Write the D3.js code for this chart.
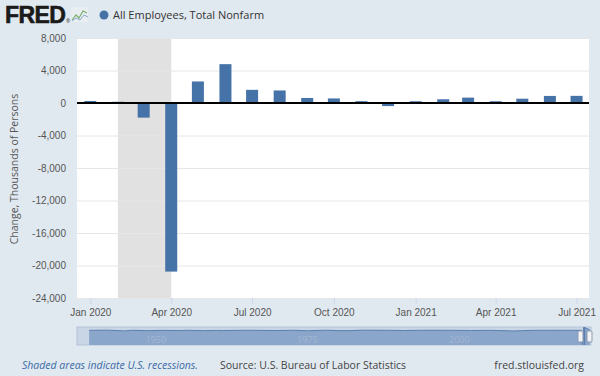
<html>
<head>
  <script src="https://d3js.org/d3.v7.min.js"></script>
  <style>
    body { margin: 0; background: #e1e9f0; }
    svg { font-family: "Open Sans", sans-serif; }
    .gridlines line { stroke: #e6e6e6; }
    .gridlines .domain { stroke: none; }
    .axis .domain { stroke: none; }
    .axis text { fill: #555; font-size: 10px; }
  </style>
</head>
<body>
  <svg id="chart" width="600" height="376"></svg>
  <script>
    // monthly change, thousands of persons
    const months = ["2020-01", "2020-02", "2020-03", "2020-04", "2020-05", "2020-06", "2020-07", "2020-08",
      "2020-09", "2020-10", "2020-11", "2020-12", "2021-01", "2021-02", "2021-03", "2021-04",
      "2021-05", "2021-06", "2021-07"]
    const changes = [250, 150, -1800, -20750, 2650, 4780, 1620, 1540, 620, 560, 230, -380, 220, 460, 660, 220, 530, 870, 880]
    const yTicks = [8000, 4000, 0, -4000, -8000, -12000, -16000, -20000, -24000]
    const xTicks = ["2020-01", "2020-04", "2020-07", "2020-10", "2021-01", "2021-04", "2021-07"]
    const recession = ["2020-02", "2020-04"]
    // navigator overview (long history, thousands)
    const navYears = [1939, 1942, 1945, 1946, 1949, 1951, 1954, 1955, 1958, 1960, 1961, 1965, 1970, 1973, 1975, 1978,
      1980, 1982, 1984, 1988, 1991, 1994, 1999, 2002, 2005, 2009, 2012, 2015, 2019, 2020.1, 2020.3, 2020.5, 2021.5]
    const navValues = [200, 400, -600, 300, -300, 200, -200, 250, -300, 100, -100, 250, -100, 250, -400, 350,
      -200, -250, 350, 270, -100, 300, 260, -50, 200, -700, 180, 230, 180, 200, -20700, 4700, 900]
    const navLabels = [1950, 1975, 2000]

    const svg = d3.select("#chart")
    const margin = { top: 38, right: 11, bottom: 78, left: 77 }
    const width = 600, height = 376
    const chartWidth = width - margin.left - margin.right
    const chartHeight = height - margin.top - margin.bottom
    const parseTime = d3.timeParse("%Y-%m")

    // header
    const header = svg.append("g")
    header.append("text").attr("x", 5).attr("y", 23)
      .style("font-family", "Liberation Sans, Arial, sans-serif")
      .style("font-weight", "bold").style("font-size", "23px").style("letter-spacing", "-0.6px")
      .style("fill", "#1a1a1a").style("stroke", "#1a1a1a").style("stroke-width", 0.6).text("FRED")
    header.append("text").attr("x", 66).attr("y", 23).style("font-size", "5px").style("fill", "#333").text("®")
    header.append("rect").attr("x", 71).attr("y", 7).attr("width", 17).attr("height", 15).style("fill", "#e8eef2")
    header.append("path").attr("d", "M72,20 L76,15 L79,18 L83,11 L87,13")
      .style("fill", "none").style("stroke", "#7fae6e").style("stroke-width", 1.2)
    header.append("path").attr("d", "M72,21 L76,18 L80,20 L84,15 L88,17")
      .style("fill", "none").style("stroke", "#8aa6c8").style("stroke-width", 1)
    header.append("circle").attr("cx", 104).attr("cy", 15).attr("r", 4.5).style("fill", "#4572a7")
    header.append("text").attr("x", 113).attr("y", 19).style("font-size", "11px").style("fill", "#333")
      .text("All Employees, Total Nonfarm")

    const chartArea = svg.append("g").attr("transform", `translate(${margin.left},${margin.top})`)
    chartArea.append("rect").attr("width", chartWidth).attr("height", chartHeight).style("fill", "#fff")

    const timeScale = d3.scaleTime()
      .domain([new Date(2019, 11, 17), new Date(2021, 6, 15)]).range([0, chartWidth])
    const valueScale = d3.scaleLinear().domain([-24000, 8000]).range([chartHeight, 0])

    // recession shading
    chartArea.append("rect")
      .attr("x", timeScale(parseTime(recession[0])))
      .attr("width", timeScale(parseTime(recession[1])) - timeScale(parseTime(recession[0])))
      .attr("y", 0).attr("height", chartHeight)
      .style("fill", "#e1e1e1")

    const valueGridlines = d3.axisLeft(valueScale).tickValues(yTicks).tickSize(-chartWidth).tickFormat("")
    chartArea.append("g").attr("class", "gridlines").call(valueGridlines)

    const commaFmt = d3.format(",")
    const valueAxis = d3.axisLeft(valueScale).tickValues(yTicks).tickSize(0).tickPadding(11)
      .tickFormat(d => commaFmt(d).replace("\u2212", "-"))
    chartArea.append("g").attr("class", "axis").call(valueAxis)

    const timeAxis = d3.axisBottom(timeScale).tickValues(xTicks.map(parseTime))
      .tickSize(6).tickPadding(5).tickFormat(d3.timeFormat("%b %Y"))
    const xAxisG = chartArea.append("g").attr("class", "axis")
      .attr("transform", `translate(0,${chartHeight})`).call(timeAxis)
    xAxisG.selectAll(".tick line").style("stroke", "#ccd6eb")

    const barWidth = 12
    chartArea.selectAll("rect.bar").data(changes)
      .join("rect").attr("class", "bar")
      .attr("x", (d, i) => timeScale(parseTime(months[i])) - barWidth / 2)
      .attr("width", barWidth)
      .attr("y", d => valueScale(Math.max(0, d)))
      .attr("height", d => Math.abs(valueScale(d) - valueScale(0)))
      .style("fill", "#4572a7")

    chartArea.append("line").attr("x1", 0).attr("x2", chartWidth)
      .attr("y1", valueScale(0)).attr("y2", valueScale(0))
      .style("stroke", "#000").style("stroke-width", 2)

    svg.append("text").attr("transform", "translate(18,169) rotate(-90)")
      .attr("text-anchor", "middle").style("font-size", "10.5px").style("fill", "#555")
      .text("Change, Thousands of Persons")

    // navigator
    const navTop = 327, navBottom = 345, navLeft = 77, navRight = 591
    const navX = d3.scaleLinear().domain([1937, 2021.7]).range([navLeft, navRight])
    const navY = d3.scaleLinear().domain([-21000, 5000]).range([navBottom, navTop])
    const nav = svg.append("g")
    nav.append("rect").attr("x", navLeft).attr("y", navTop).attr("width", navRight - navLeft)
      .attr("height", navBottom - navTop).style("fill", "#c9d6e6").style("stroke", "#b5c4d8")
    const navArea = d3.area().x((d, i) => navX(navYears[i])).y0(navBottom).y1(d => navY(d))
    nav.append("path").attr("d", navArea(navValues)).style("fill", "#8ba6cb")
    const navLine = d3.line().x((d, i) => navX(navYears[i])).y(d => navY(d))
    nav.append("path").attr("d", navLine(navValues)).style("fill", "none")
      .style("stroke", "#5d80ae").style("stroke-width", 1)
    nav.selectAll("text.navlab").data(navLabels).join("text").attr("class", "navlab")
      .attr("x", d => navX(d)).attr("y", 343).attr("text-anchor", "middle")
      .style("font-size", "9px").style("fill", "#a3b7d2").text(d => d)
    ;[578, 587].forEach(x => {
      nav.append("rect").attr("x", x).attr("y", 331).attr("width", 5).attr("height", 11).attr("rx", 1)
        .style("fill", "#f2f2f2").style("stroke", "#8a9bb0")
    })
    nav.append("line").attr("x1", 584.5).attr("x2", 584.5).attr("y1", navTop).attr("y2", navBottom)
      .style("stroke", "#5d80ae").style("stroke-width", 1.5)

    // footer
    svg.append("text").attr("x", 22).attr("y", 369).style("font-size", "10.5px").style("font-style", "italic")
      .style("fill", "#3a6aa6").text("Shaded areas indicate U.S. recessions.")
    svg.append("text").attr("x", 220).attr("y", 369).style("font-size", "10.5px").style("fill", "#444")
      .text("Source: U.S. Bureau of Labor Statistics")
    svg.append("text").attr("x", 584).attr("y", 369).attr("text-anchor", "end")
      .style("font-size", "10.5px").style("fill", "#444").text("fred.stlouisfed.org")
  </script>
</body>
</html>
